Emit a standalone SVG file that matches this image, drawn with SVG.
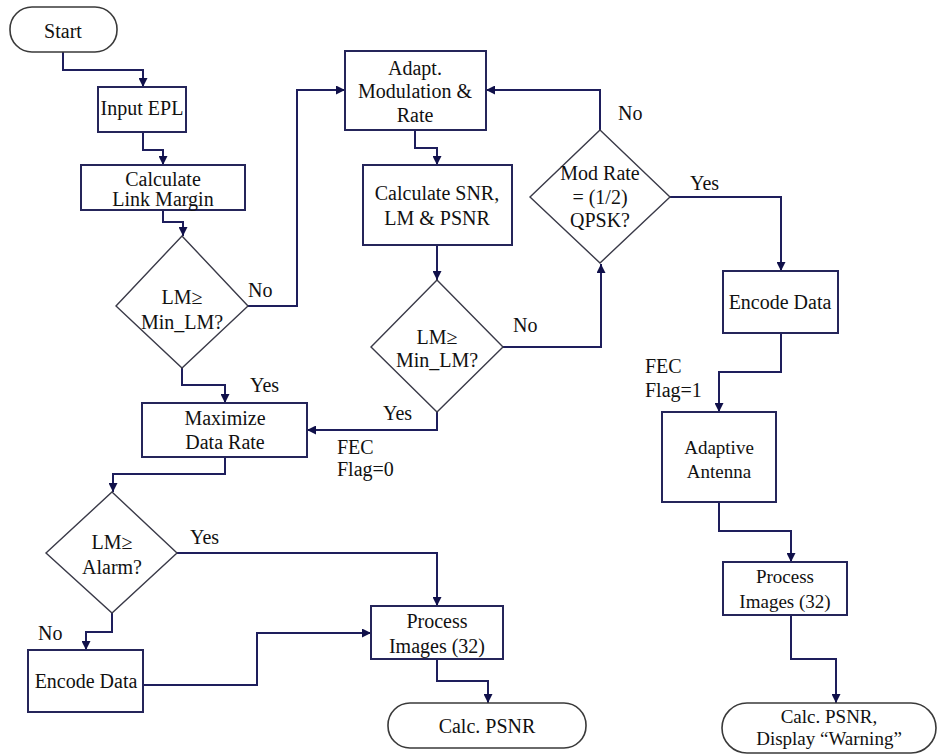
<svg xmlns="http://www.w3.org/2000/svg" width="940" height="756" viewBox="0 0 940 756">
<style>
.box{fill:#fff;stroke:#25255a;stroke-width:2}
.dia{fill:#fff;stroke:#3a3a48;stroke-width:1.4}
.term{fill:#fff;stroke:#3a3a3a;stroke-width:1.6}
.t{font-family:"Liberation Serif","Times New Roman",serif;font-size:20px;fill:#111;text-anchor:middle}
.s{font-size:19px}
.l{font-family:"Liberation Serif","Times New Roman",serif;font-size:20px;fill:#111}
.c{fill:none;stroke:#1e1e5c;stroke-width:2}
</style>
<defs>
<marker id="a" viewBox="0 0 10 10" refX="10" refY="5" markerWidth="9" markerHeight="9" markerUnits="userSpaceOnUse" orient="auto">
<path d="M0,0 L10,5 L0,10 z" fill="#10104a"/>
</marker>
</defs>
<rect width="940" height="756" fill="#fff"/>
<g id="connectors">
<path class="c" marker-end="url(#a)" d="M63,52 V70 H143 V87"/>
<path class="c" marker-end="url(#a)" d="M143,132 V150 H163 V165"/>
<path class="c" marker-end="url(#a)" d="M163,210 V222 H183 V236"/>
<path class="c" marker-end="url(#a)" d="M248,306 H297 V90 H345"/>
<path class="c" marker-end="url(#a)" d="M415,130 V148 H437 V165"/>
<path class="c" marker-end="url(#a)" d="M437,245 V280"/>
<path class="c" marker-end="url(#a)" d="M503,347 H601 V264"/>
<path class="c" marker-end="url(#a)" d="M600,130 V90 H486"/>
<path class="c" marker-end="url(#a)" d="M670,197 H781 V271"/>
<path class="c" marker-end="url(#a)" d="M781,333 V372 H719 V412"/>
<path class="c" marker-end="url(#a)" d="M719,502 V531 H791 V562"/>
<path class="c" marker-end="url(#a)" d="M791,615 V659 H836 V703"/>
<path class="c" marker-end="url(#a)" d="M182,368 V385 H225 V403"/>
<path class="c" marker-end="url(#a)" d="M437,412 V430 H307"/>
<path class="c" marker-end="url(#a)" d="M225,457 V474 H113 V492"/>
<path class="c" marker-end="url(#a)" d="M177,553 H437 V606"/>
<path class="c" marker-end="url(#a)" d="M112,613 V632 H86 V650"/>
<path class="c" marker-end="url(#a)" d="M143,685 H257 V633 H371"/>
<path class="c" marker-end="url(#a)" d="M437,659 V681 H488 V703"/>
</g>
<g id="start"><rect class="term" x="10" y="7" width="107" height="45" rx="22"/><text class="t" x="63" y="38">Start</text></g>
<g id="input-epl"><rect class="box" x="98" y="87" width="88" height="45"/><text class="t" x="142" y="115">Input EPL</text></g>
<g id="calc-lm"><rect class="box" x="81" y="165" width="164" height="45"/><text class="t" x="163" y="186">Calculate</text><text class="t" x="163" y="206">Link Margin</text></g>
<g id="dec1"><polygon class="dia" points="182,236 248,306 182,368 116,306"/><text class="t" x="182" y="304">LM≥</text><text class="t" x="182" y="329">Min_LM?</text></g>
<g id="adapt"><rect class="box" x="345" y="51" width="141" height="79"/><text class="t" x="415" y="75">Adapt.</text><text class="t" x="415" y="98">Modulation &amp;</text><text class="t" x="415" y="122">Rate</text></g>
<g id="calc-snr"><rect class="box" x="363" y="165" width="149" height="80"/><text class="t" x="437" y="200">Calculate SNR,</text><text class="t" x="437" y="225">LM &amp; PSNR</text></g>
<g id="dec2"><polygon class="dia" points="437,280 503,347 437,412 371,347"/><text class="t" x="437" y="344">LM≥</text><text class="t" x="437" y="367">Min_LM?</text></g>
<g id="dec3"><polygon class="dia" points="600,130 670,197 600,263 530,197"/><text class="t" x="600" y="180">Mod Rate</text><text class="t" x="600" y="204">= (1/2)</text><text class="t" x="600" y="227">QPSK?</text></g>
<g id="encode-r"><rect class="box" x="723" y="271" width="115" height="62"/><text class="t" x="780" y="309">Encode Data</text></g>
<g id="antenna"><rect class="box" x="662" y="412" width="114" height="90"/><text class="t s" x="719" y="454">Adaptive</text><text class="t s" x="719" y="478">Antenna</text></g>
<g id="process-r"><rect class="box" x="723" y="562" width="124" height="53"/><text class="t s" x="785" y="583">Process</text><text class="t s" x="785" y="608">Images (32)</text></g>
<g id="end-r"><rect class="term" x="722" y="703" width="214" height="50" rx="25"/><text class="t s" x="829" y="723">Calc. PSNR,</text><text class="t s" x="829" y="745">Display “Warning”</text></g>
<g id="maximize"><rect class="box" x="142" y="403" width="165" height="54"/><text class="t" x="225" y="425">Maximize</text><text class="t" x="225" y="449">Data Rate</text></g>
<g id="dec4"><polygon class="dia" points="112,492 177,553 112,613 46,553"/><text class="t" x="112" y="549">LM≥</text><text class="t" x="112" y="574">Alarm?</text></g>
<g id="encode-l"><rect class="box" x="28" y="650" width="115" height="62"/><text class="t" x="86" y="688">Encode Data</text></g>
<g id="process-m"><rect class="box" x="371" y="606" width="132" height="53"/><text class="t" x="437" y="628">Process</text><text class="t" x="437" y="653">Images (32)</text></g>
<g id="end-m"><rect class="term" x="388" y="703" width="198" height="45" rx="22"/><text class="t" x="487" y="733">Calc. PSNR</text></g>
<g id="labels">
<text class="l" x="248" y="297">No</text>
<text class="l" x="618" y="120">No</text>
<text class="l" x="690" y="190">Yes</text>
<text class="l" x="513" y="332">No</text>
<text class="l" x="250" y="392">Yes</text>
<text class="l" x="383" y="420">Yes</text>
<text class="l" x="337" y="454">FEC</text>
<text class="l" x="337" y="476">Flag=0</text>
<text class="l" x="645" y="373">FEC</text>
<text class="l" x="645" y="397">Flag=1</text>
<text class="l" x="190" y="544">Yes</text>
<text class="l" x="38" y="640">No</text>
</g>
</svg>
